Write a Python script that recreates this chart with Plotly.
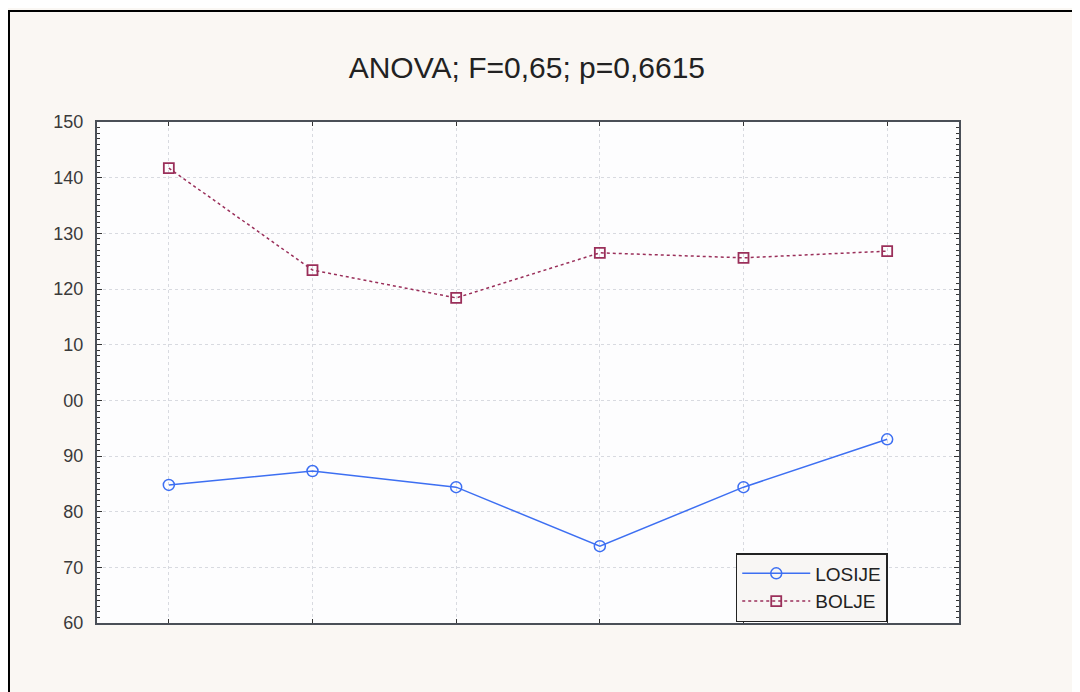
import plotly.graph_objects as go

# categories are unlabeled in the original, only positions
categories = [0, 1, 2, 3, 4, 5]
losije = [84.8, 87.3, 84.4, 73.8, 84.4, 93.0]
bolje = [141.7, 123.4, 118.4, 126.5, 125.6, 126.8]

y_tickvals = [60, 70, 80, 90, 100, 110, 120, 130, 140, 150]
y_ticktext = ['60', '70', '80', '90', '00', '10', '120', '130', '140', '150']

font_name = 'Liberation Sans, Arial, sans-serif'

fig = go.Figure()

fig.add_trace(go.Scatter(
    x = categories,
    y = losije,
    name = 'LOSIJE',
    mode = 'lines+markers',
    line = dict(color = '#3d6ff2', width = 1.5),
    marker = dict(symbol = 'circle-open', size = 11, color = '#3d6ff2', line = dict(width = 1.5)),
))
fig.add_trace(go.Scatter(
    x = categories,
    y = bolje,
    name = 'BOLJE',
    mode = 'lines+markers',
    line = dict(color = '#9a2f5a', width = 1.5, dash = 'dot'),
    marker = dict(symbol = 'square-open', size = 10, color = '#9a2f5a', line = dict(width = 1.8)),
))

# outer frame of the original figure (cut at right and bottom)
fig.add_shape(type = 'rect', xref = 'paper', yref = 'paper',
              x0 = -0.1021, x1 = 1.3, y0 = -0.3, y1 = 1.2216,
              line = dict(color = 'black', width = 2), layer = 'below')

fig.update_xaxes(
    range = [-0.5, 5.5],
    tickvals = categories,
    showticklabels = False,
    ticks = 'inside', ticklen = 4, tickcolor = '#333',
    showline = True, linecolor = '#4a4f57', linewidth = 2, mirror = 'ticks',
    showgrid = True, gridcolor = '#d8dae0', griddash = 'dot', gridwidth = 1,
    zeroline = False,
)
fig.update_yaxes(
    range = [60, 150],
    tickvals = y_tickvals,
    ticktext = y_ticktext,
    ticks = 'inside', ticklen = 5, tickcolor = '#333',
    minor = dict(dtick = 1, ticks = 'inside', ticklen = 3, tickcolor = '#333', showgrid = False),
    showline = True, linecolor = '#4a4f57', linewidth = 2, mirror = 'ticks',
    showgrid = True, gridcolor = '#d8dae0', griddash = 'dot', gridwidth = 1,
    zeroline = False,
    tickfont = dict(family = font_name, size = 18, color = '#3a3a3a'),
    ticklabelstandoff = 8,
)

fig.update_layout(
    width = 1072, height = 684,
    margin = dict(l = 89, r = 121, t = 114, b = 69),
    paper_bgcolor = '#faf7f3',
    plot_bgcolor = '#fdfdfe',
    title = dict(text = 'ANOVA; F=0,65; p=0,6615', x = 0.484, xanchor = 'center',
                 y = 0.9137, yanchor = 'middle',
                 font = dict(family = font_name, size = 30, color = '#222')),
    legend = dict(x = 0.741, y = 0.1397, xanchor = 'left', yanchor = 'top',
                  bgcolor = '#f8f6f4', bordercolor = '#222', borderwidth = 1.5,
                  font = dict(family = font_name, size = 19, color = '#222'),
                  itemwidth = 68, entrywidth = 170, entrywidthmode = 'pixels',
                  tracegroupgap = 0),
    showlegend = True,
)

fig.write_html('out.html')
